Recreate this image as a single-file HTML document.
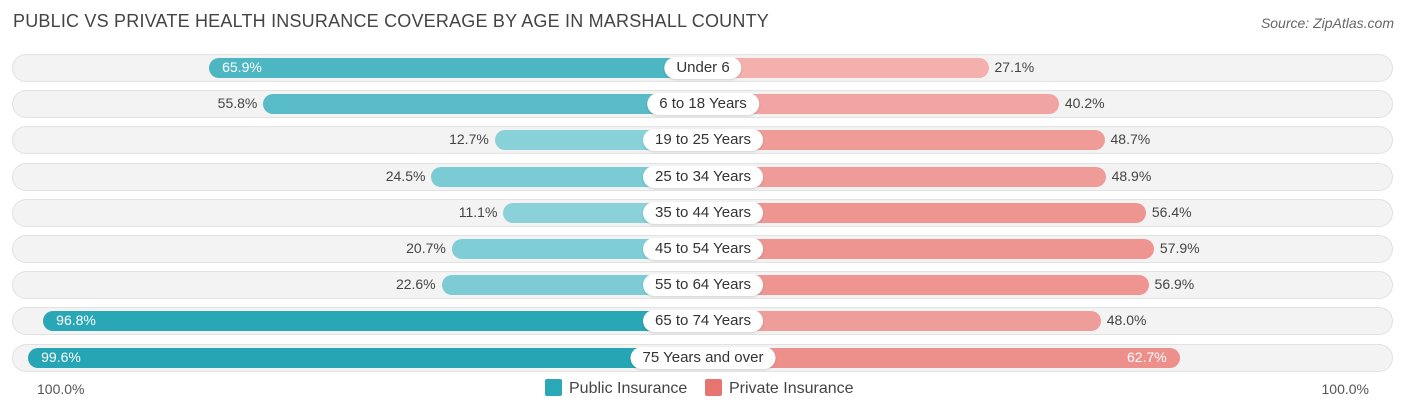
<!DOCTYPE html>
<html><head><meta charset="utf-8">
<style>
body{margin:0;width:1406px;height:414px;background:#fff;font-family:"Liberation Sans",Arial,sans-serif;position:relative;overflow:hidden}
.t{position:absolute;white-space:nowrap}
</style></head><body>
<div class="t" style="left:13px;top:11px;font-size:18px;color:#444;letter-spacing:0.2px">PUBLIC VS PRIVATE HEALTH INSURANCE COVERAGE BY AGE IN MARSHALL COUNTY</div>
<div class="t" style="right:12px;top:15px;font-size:14px;color:#666;font-style:italic">Source: ZipAtlas.com</div>
<div id="rows"></div>
<div class="t" style="left:37px;top:381px;font-size:14px;color:#555">100.0%</div>
<div class="t" style="right:37px;top:381px;font-size:14px;color:#555">100.0%</div>
<div class="t" style="left:545px;top:379px;font-size:16px;color:#444"><span style="display:inline-block;width:17px;height:17px;background:#2ba8b8;border-radius:2px;vertical-align:-3px;margin-right:7px"></span>Public Insurance</div>
<div class="t" style="left:705px;top:379px;font-size:16px;color:#444"><span style="display:inline-block;width:17px;height:17px;background:#e8746f;border-radius:2px;vertical-align:-3px;margin-right:7px"></span>Private Insurance</div>
<script>
const categories=["Under 6","6 to 18 Years","19 to 25 Years","25 to 34 Years","35 to 44 Years","45 to 54 Years","55 to 64 Years","65 to 74 Years","75 Years and over"];
const publicVals=[65.9,55.8,12.7,24.5,11.1,20.7,22.6,96.8,99.6];
const privateVals=[27.1,40.2,48.7,48.9,56.4,57.9,56.9,48.0,62.7];
const cx=703,off=140,sc=5.37,y0=68,dy=36.2;
function w(v){return off+sc*v;}
function lerp(a,b,t){return a.map((x,i)=>Math.round(x+(b[i]-x)*t));}
function col(v,a,b){const t=Math.max(0,Math.min(1,v/100));const c=lerp(a,b,t);return `rgb(${c[0]},${c[1]},${c[2]})`;}
const root=document.getElementById('rows');
categories.forEach((c,i)=>{
  const y=y0+dy*i;
  const bg=document.createElement('div');
  
  
  bg.style.cssText=`position:absolute;left:12px;width:1381px;top:${y-14}px;height:28px;border-radius:14px;background:#f3f3f3;box-shadow:inset 0 0 0 1px #e2e2e2`;
  root.appendChild(bg);
  const pv=publicVals[i],rv=privateVals[i];
  const pw=w(pv),rw=w(rv);
  const pb=document.createElement('div');
  
  
  pb.style.cssText=`position:absolute;left:${cx-pw}px;width:${pw}px;top:${y-10}px;height:20px;border-radius:10px 0 0 10px;background:${col(pv,[150,215,222],[38,165,181])}`;
  root.appendChild(pb);
  const rb=document.createElement('div');
  
  
  rb.style.cssText=`position:absolute;left:${cx}px;width:${rw}px;top:${y-10}px;height:20px;border-radius:0 10px 10px 0;background:${col(rv,[248,200,198],[230,110,106])}`;
  root.appendChild(rb);
  const pl=document.createElement('div');
  
  
  pl.className='t';pl.textContent=pv.toFixed(1)+'%';
  if(pv>60){pl.style.cssText=`left:${cx-pw+13}px;top:${y-9}px;font-size:14px;color:#fff`;}
  else{pl.style.cssText=`right:${1406-(cx-pw)+6}px;top:${y-9}px;font-size:14px;color:#444`;}
  root.appendChild(pl);
  const rl=document.createElement('div');
  
  
  rl.className='t';rl.textContent=rv.toFixed(1)+'%';
  if(rv>60){rl.style.cssText=`right:${1406-(cx+rw)+13}px;top:${y-9}px;font-size:14px;color:#fff`;}
  else{rl.style.cssText=`left:${cx+rw+6}px;top:${y-9}px;font-size:14px;color:#444`;}
  root.appendChild(rl);
  const lb=document.createElement('div');
  
  
  lb.className='t';lb.textContent=c;
  lb.style.cssText=`left:${cx}px;top:${y-11}px;transform:translateX(-50%);background:#fff;border-radius:11px;padding:2px 12px;font-size:15px;color:#333;line-height:18px;box-shadow:0 1px 2px rgba(0,0,0,0.15)`;
  root.appendChild(lb);
});
</script>
</body></html>
